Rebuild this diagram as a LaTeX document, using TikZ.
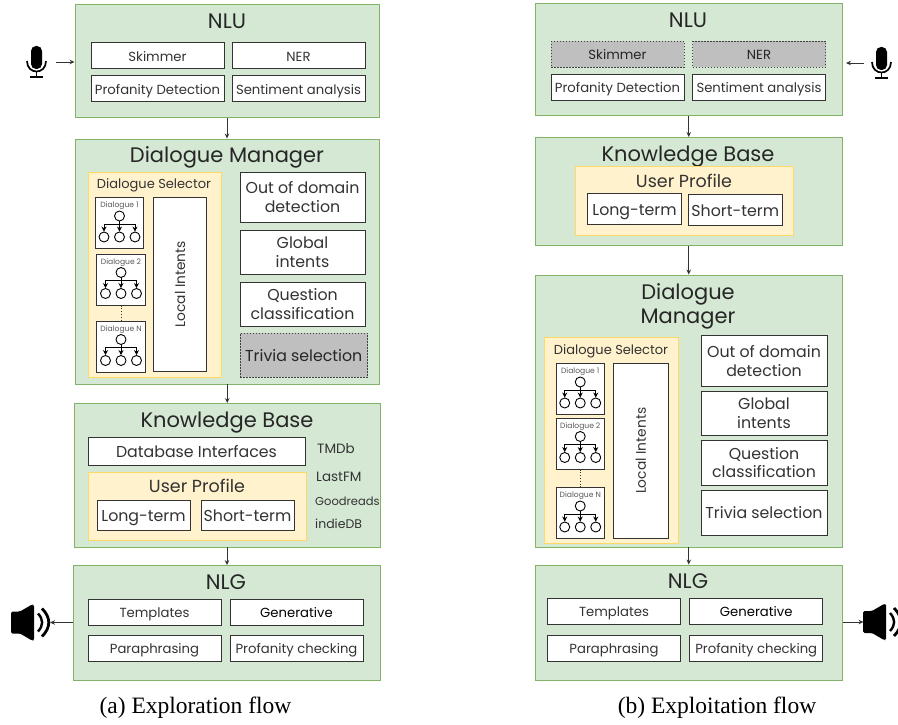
\documentclass[tikz,border=0pt]{standalone}
\usepackage{fontspec}
\setmainfont{Poppins}
\newfontfamily\captionfont{Liberation Serif}
\usetikzlibrary{
    arrows.meta
}
\definecolor{panelfill}{HTML}{D5E8D4}
\definecolor{panelline}{HTML}{82B366}
\definecolor{groupfill}{HTML}{FFF2CC}
\definecolor{groupline}{HTML}{FFD966}
\definecolor{offfill}{HTML}{BFBFBF}
\definecolor{inkline}{HTML}{333333}
\tikzset{
    x=1pt, y=-1pt,
    size/.style 2 args={minimum width=#1pt, minimum height=#2pt},
    panel/.style={draw=panelline, fill=panelfill, line width=0.9pt, inner sep=0pt},
    group/.style={draw=groupline, fill=groupfill, line width=0.9pt, inner sep=0pt},
    inbox/.style={draw=inkline, fill=white, line width=1pt, inner sep=0pt, align=center, text=black!80},
    offbox/.style={inbox, draw=black!75, fill=offfill, dash pattern=on 1.5pt off 1.5pt},
    title/.style={inner sep=0pt, align=center, text=black!85, font=\fontsize{21}{24}\selectfont},
    grouptitle/.style={inner sep=0pt, text=black!80, font=\fontsize{17.5}{20}\selectfont},
    selectortitle/.style={inner sep=0pt, text=black!80, font=\fontsize{13}{15}\selectfont},
    medium/.style={text height=12pt, text depth=1.5pt, font=\fontsize{13.2}{16}\selectfont},
    large/.style={font=\fontsize{15.8}{18.5}\selectfont},
    oneline/.style={text height=14pt, text depth=2pt},
    intents/.style={font=\fontsize{13.8}{16}\selectfont},
    extsource/.style={inner sep=0pt, anchor=west, text=black!80},
    treenode/.style={draw=black, fill=white, circle, inner sep=0pt, line width=0.9pt, minimum size=10pt},
    treearrow/.style={-{Stealth[length=5pt,width=5pt]}, black, line width=0.8pt},
    flow/.style={-{Stealth[length=5pt,width=4.5pt]}, inkline, line width=0.9pt},
    caption/.style={inner sep=0pt, font=\captionfont\fontsize{23.5}{26}\selectfont}
}
\begin{document}
\begin{tikzpicture}
    \useasboundingbox (0,0) rectangle (898,725);

    % #1 name, #2 x, #3 top y, #4 label
    \def\dialoguetree#1#2#3#4{
        \node[inbox, size={48.5}{51}, anchor=north] (#1) at (#2,#3) {};
        \node[inner sep=0pt, text=black!65, font=\fontsize{7.6}{9}\selectfont] (#1t) at (#2,#3+9) {#4};
        \node[treenode] (#1r) at (#2,#3+19) {};
        \node[treenode] (#1a) at (#2-15.5,#3+40) {};
        \node[treenode] (#1b) at (#2,#3+40) {};
        \node[treenode] (#1c) at (#2+15.5,#3+40) {};
        \draw[treearrow] (#1r.south) -- (#1b.north);
        \draw[treearrow] (#1r.south) -- ++(0,2.5) -| (#1a.north);
        \draw[treearrow] (#1r.south) -- ++(0,2.5) -| (#1c.north);
    }
    \def\micicon#1#2{
        \fill[black, rounded corners=5pt] (#1-5.5,#2-16) rectangle (#1+5.5,#2+7);
        \draw[black, line width=1.7pt] (#1-9.5,#2-1) .. controls (#1-9.5,#2+13) and (#1+9.5,#2+13) .. (#1+9.5,#2-1);
        \draw[black, line width=1.7pt] (#1,#2+10) -- (#1,#2+15);
        \draw[black, line width=1.7pt] (#1-6.5,#2+15) -- (#1+6.5,#2+15);
    }
    \def\speakericon#1#2{
        \fill[black, rounded corners=1.5pt] (#1,#2-11) -- (#1+9,#2-11) -- (#1+21,#2-18) -- (#1+23,#2-18)
            -- (#1+23,#2+18) -- (#1+21,#2+18) -- (#1+9,#2+11) -- (#1,#2+11) -- cycle;
        \draw[black, line width=2.4pt] (#1+27,#2-9) .. controls (#1+32.5,#2-3) and (#1+32.5,#2+3) .. (#1+27,#2+9);
        \draw[black, line width=2.8pt] (#1+31,#2-14) .. controls (#1+40,#2-5) and (#1+40,#2+5) .. (#1+31,#2+14);
    }

    % exploration flow
    \node[panel, size={304}{112.5}] (nluA) at (227,61) {};
    \node[title] (nluAt) at (227,21.5) {NLU};
    \node[inbox, medium, size={133}{26}] (skimmerA)   at (157.5,56)  {Skimmer};
    \node[inbox, medium, size={133}{26}] (nerA)       at (298.5,56)  {NER};
    \node[inbox, medium, size={133}{26}] (profanityA) at (157.5,89)  {Profanity Detection};
    \node[inbox, medium, size={133}{26}] (sentimentA) at (298.5,89)  {Sentiment analysis};

    \node[panel, size={304.5}{245}] (dmA) at (227.25,261.5) {};
    \node[title] (dmAt) at (227,157) {Dialogue Manager};
    \node[group, size={133}{205}] (selectorA) at (154.5,274.5) {};
    \node[selectortitle] (selectorAt) at (154,185.5) {Dialogue Selector};
    \dialoguetree{dlgAa}{119.5}{197}{Dialogue 1}
    \dialoguetree{dlgAb}{121}{253.5}{Dialogue 2}
    \dialoguetree{dlgAc}{121}{320.5}{Dialogue N}
    \draw[inkline, dotted, line width=0.8pt] (dlgAb.south) -- (dlgAc.north);
    \node[inbox, intents, size={53}{174.5}] (localA) at (180,284.25) {\rotatebox{90}{Local Intents}};
    \node[inbox, large, size={125}{50}] (domainA)   at (302.5,197) {Out of domain\\detection};
    \node[inbox, large, size={125}{44}] (globalA)   at (302.5,252) {Global\\intents};
    \node[inbox, large, size={125}{44}] (questionA) at (302.5,304) {Question\\classification};
    \node[offbox, large, oneline, size={127.5}{44}] (triviaA) at (303.75,355) {\textcolor{black!85}{Trivia selection}};

    \node[panel, size={306}{143.5}] (kbA) at (227,475.25) {};
    \node[title] (kbAt) at (227,423) {Knowledge Base};
    \node[inbox, large, oneline, size={217}{28}] (dbA) at (196.5,451) {Database Interfaces};
    \node[group, size={218}{68}] (profileA) at (197,506) {};
    \node[grouptitle] (profileAt) at (197,486) {User Profile};
    \node[inbox, large, oneline, size={93}{30}] (longA)  at (143.5,515) {Long-term};
    \node[inbox, large, oneline, size={93}{30}] (shortA) at (247.5,515) {Short-term};
    \node[extsource, font=\fontsize{13.5}{15}\selectfont] (tmdb)      at (317,448.5) {TMDb};
    \node[extsource, font=\fontsize{13.5}{15}\selectfont] (lastfm)    at (316,476.5) {LastFM};
    \node[extsource, font=\fontsize{11.5}{15}\selectfont] (goodreads) at (315,501)   {Goodreads};
    \node[extsource, font=\fontsize{12.5}{15}\selectfont] (indiedb)   at (315,524)   {indieDB};

    \node[panel, size={306.5}{114.5}] (nlgA) at (226.75,622.75) {};
    \node[title] (nlgAt) at (226,582) {NLG};
    \node[inbox, medium, size={133}{26}] (templatesA)  at (154.5,612.5) {Templates};
    \node[inbox, medium, size={133}{26}] (generativeA) at (296.5,612.5) {\textcolor{black}{Generative}};
    \node[inbox, medium, size={133}{26}] (paraA)       at (154.5,648.5) {Paraphrasing};
    \node[inbox, medium, size={133}{26}] (checkingA)   at (296.5,648.5) {Profanity checking};

    \micicon{36.5}{62}
    \coordinate (micAout) at (56,62);
    \speakericon{11}{622.5}
    \coordinate (spkAin) at (50,622.5);
    \draw[flow] (micAout) -- (micAout -| nluA.west);
    \draw[flow] (nluA.south) -- (nluA.south |- dmA.north);
    \draw[flow] (dmA.south) -- (dmA.south |- kbA.north);
    \draw[flow] (kbA.south) -- (kbA.south |- nlgA.north);
    \draw[flow] (spkAin -| nlgA.west) -- (spkAin);

    \node[caption] (captionA) at (195.5,708) {(a) Exploration flow};

    % exploitation flow
    \node[panel, size={307.5}{112.5}] (nluB) at (688.75,59.25) {};
    \node[title] (nluBt) at (688,20) {NLU};
    \node[offbox, medium, size={133}{26}] (skimmerB)   at (617.5,54.5) {\textcolor{black!85}{Skimmer}};
    \node[offbox, medium, size={133}{26}] (nerB)       at (759,54.5)   {\textcolor{black!85}{NER}};
    \node[inbox, medium, size={133}{26}] (profanityB)  at (617.5,87.5) {Profanity Detection};
    \node[inbox, medium, size={133}{26}] (sentimentB)  at (759,87.5)   {Sentiment analysis};

    \node[panel, size={307.5}{108}] (kbB) at (688.75,191.5) {};
    \node[title] (kbBt) at (688,157) {Knowledge Base};
    \node[group, size={218.5}{68.5}] (profileB) at (684.25,200.75) {};
    \node[grouptitle] (profileBt) at (684,181) {User Profile};
    \node[inbox, large, oneline, size={94}{31}] (longB)  at (634.5,209)  {Long-term};
    \node[inbox, large, oneline, size={93.5}{31}] (shortB) at (735.25,210) {Short-term};

    \node[panel, size={307.5}{272}] (dmB) at (688.75,411) {};
    \node[title] (dmBt) at (688,306) {Dialogue\\Manager};
    \node[group, size={134}{205.5}] (selectorB) at (611,440.25) {};
    \node[selectortitle] (selectorBt) at (611,351) {Dialogue Selector};
    \dialoguetree{dlgBa}{580.25}{363}{Dialogue 1}
    \dialoguetree{dlgBb}{580.25}{417.5}{Dialogue 2}
    \dialoguetree{dlgBc}{580.25}{487}{Dialogue N}
    \draw[inkline, dotted, line width=0.8pt] (dlgBb.south) -- (dlgBc.north);
    \node[inbox, intents, size={54.5}{175.5}] (localB) at (640.75,450.75) {\rotatebox{90}{Local Intents}};
    \node[inbox, large, size={126}{51}] (domainB)   at (764,361)    {Out of domain\\detection};
    \node[inbox, large, size={126}{44}] (globalB)   at (764,413)    {Global\\intents};
    \node[inbox, large, size={126}{44.5}] (questionB) at (764,462.75) {Question\\classification};
    \node[inbox, large, oneline, size={126}{44.5}] (triviaB)   at (764,512.75) {Trivia selection};

    \node[panel, size={307.5}{115}] (nlgB) at (688.75,622.5) {};
    \node[title] (nlgBt) at (688,581) {NLG};
    \node[inbox, medium, size={133}{26}] (templatesB)  at (614,611.5) {Templates};
    \node[inbox, medium, size={133}{26}] (generativeB) at (756.25,611.5) {\textcolor{black}{Generative}};
    \node[inbox, medium, size={133}{26}] (paraB)       at (614,648)   {Paraphrasing};
    \node[inbox, medium, size={133}{26}] (checkingB)   at (756.25,648) {Profanity checking};

    \micicon{881.5}{63}
    \coordinate (micBout) at (864,63);
    \coordinate (micBin) at (846,63);
    \speakericon{863}{622}
    \coordinate (spkBin) at (863.5,622);
    \draw[flow] (micBout) -- (micBin);
    \draw[flow] (nluB.south) -- (nluB.south |- kbB.north);
    \draw[flow] (kbB.south) -- (kbB.south |- dmB.north);
    \draw[flow] (dmB.south) -- (dmB.south |- nlgB.north);
    \draw[flow] (spkBin -| nlgB.east) -- (spkBin);

    \node[caption] (captionB) at (717,708) {(b) Exploitation flow};
\end{tikzpicture}
\end{document}
